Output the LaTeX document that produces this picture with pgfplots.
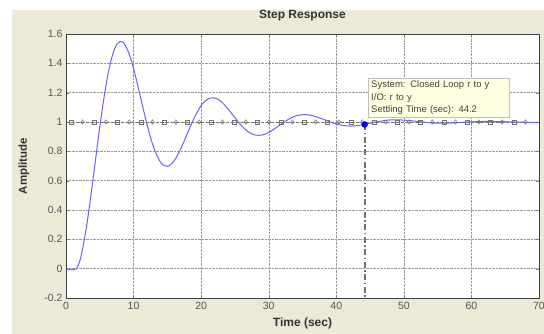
\documentclass[border=0pt]{standalone}
\usepackage{fontspec}
\setmainfont{Liberation Sans}
\usepackage{pgfplots}
\pgfplotsset{compat=1.18}
\definecolor{panel}{RGB}{236,233,216}
\definecolor{curve}{RGB}{100,100,255}
\definecolor{tipbg}{RGB}{255,255,225}
\definecolor{lbl}{RGB}{85,85,85}
\definecolor{refl}{RGB}{115,115,115}
\begin{document}
\begin{tikzpicture}[x=1pt,y=1pt]
\useasboundingbox (0,0) rectangle (544,334);
\fill[panel] (12,0) rectangle (544,324);
\begin{axis}[
  at={(66pt,36pt)}, anchor=south west, scale only axis,
  width=473pt, height=264pt,
  xmin=0, xmax=70, ymin=-0.2, ymax=1.6,
  xtick={0,10,20,30,40,50,60,70},
  ytick={-0.2,0,0.2,0.4,0.6,0.8,1,1.2,1.4,1.6},
  /pgf/number format/assume math mode=true,
  yticklabel style={/pgf/number format/fixed,/pgf/number format/precision=1},
  xticklabel style={yshift=-1pt},
  tick label style={font=\fontsize{10.5}{12}\selectfont, text=lbl},
  axis background/.style={fill=white},
  axis line style={black!75},
  tick align=inside, major tick length=3pt,
  grid=major, major grid style={densely dotted, gray!80},
  title={Step Response},
  title style={font=\bfseries\fontsize{12}{14}\selectfont, text=black!80, at={(axis description cs:0.5,1)}, anchor=center, yshift=12pt},
  xlabel={Time (sec)},
  xlabel style={font=\bfseries\fontsize{12}{14}\selectfont, text=black!80, at={(axis description cs:0.5,-0.095)}, anchor=center},
  ylabel={Amplitude},
  ylabel style={font=\bfseries\fontsize{11.5}{14}\selectfont, text=black!80, at={(axis description cs:-0.089,0.5)}, anchor=center},
]
% reference line y=1
\addplot[refl, dash pattern=on 3pt off 2pt, line width=0.6pt] coordinates {(0,1) (70,1)};
\addplot[only marks, mark=square, mark size=2pt, refl, mark options={line width=0.6pt}] coordinates {
(0.75,1)(4.2,1)(7.65,1)(11.1,1)(14.55,1)(18.0,1)(21.45,1)(24.9,1)(28.35,1)(31.8,1)
(35.25,1)(38.7,1)(42.15,1)(45.6,1)(49.05,1)(52.5,1)(55.95,1)(59.4,1)(62.85,1)(66.3,1)};
\addplot[only marks, mark=diamond, mark size=2.2pt, refl, mark options={line width=0.5pt}] coordinates {
(2.45,1)(5.9,1)(9.35,1)(12.8,1)(16.25,1)(19.7,1)(23.15,1)(26.6,1)(30.05,1)(33.5,1)
(36.95,1)(40.4,1)(43.85,1)(47.3,1)(50.75,1)(54.2,1)(57.65,1)(61.1,1)(64.55,1)(68.0,1)};
% step response
\addplot[curve, line width=1pt, smooth] coordinates {
(0,0)(0.5,-0.004)(1,-0.008)(1.5,-0.002)(2,0.045)(2.5,0.146)(3,0.277)(3.5,0.435)(4,0.610)(4.5,0.790)
(5,0.966)(5.5,1.129)(6,1.272)(6.5,1.388)(7,1.474)(7.5,1.528)(8,1.549)(8.5,1.540)(9,1.503)(9.5,1.443)
(10,1.364)(10.5,1.273)(11,1.175)(11.5,1.076)(12,0.982)(12.5,0.896)(13,0.823)(13.5,0.766)(14,0.725)(14.5,0.703)
(15,0.698)(15.5,0.710)(16,0.735)(16.5,0.773)(17,0.819)(17.5,0.871)(18,0.926)(18.5,0.979)(19,1.030)(19.5,1.074)
(20,1.111)(20.5,1.139)(21,1.157)(21.5,1.165)(22,1.164)(22.5,1.155)(23,1.138)(23.5,1.115)(24,1.088)(24.5,1.059)
(25,1.029)(25.5,1.000)(26,0.973)(26.5,0.951)(27,0.932)(27.5,0.919)(28,0.911)(28.5,0.909)(29,0.911)(29.5,0.918)
(30,0.929)(30.5,0.942)(31,0.958)(31.5,0.974)(32,0.991)(32.5,1.006)(33,1.020)(33.5,1.032)(34,1.041)(34.5,1.047)
(35,1.050)(35.5,1.050)(36,1.048)(36.5,1.043)(37,1.036)(37.5,1.028)(38,1.020)(38.5,1.011)(39,1.002)(39.5,0.994)
(40,0.986)(40.5,0.981)(41,0.976)(41.5,0.974)(42,0.972)(42.5,0.973)(43,0.975)(43.5,0.978)(44,0.982)(44.5,0.986)
(45,0.991)(45.5,0.996)(46,1.001)(47,1.009)(48,1.014)(49,1.015)(50,1.013)(51,1.009)(52,1.004)(53,0.999)
(54,0.994)(55,0.992)(56,0.992)(57,0.993)(58,0.996)(59,0.999)(60,1.001)(62,1.004)(64,1.003)(66,1.0005)
(68,0.998)(70,0.9976)};
% settling time
\addplot[refl, line width=2pt, dash pattern=on 6pt off 2.5pt on 1.5pt off 2.5pt] coordinates {(44.2,0.983) (44.2,-0.2)};
\addplot[only marks, mark=*, mark size=3pt, blue] coordinates {(44.2,0.983)};
\node[anchor=north west, fill=tipbg, draw=gray!50, inner xsep=3pt, inner ysep=2.5pt,
      align=left, font=\fontsize{9.5}{12.5}\selectfont, text=black!75,
      text width=135pt]
  at (axis cs:44.7,1.300) {System: Closed Loop r to y\\I/O: r to y\\Settling Time (sec): 44.2};
\end{axis}
\end{tikzpicture}
\end{document}
